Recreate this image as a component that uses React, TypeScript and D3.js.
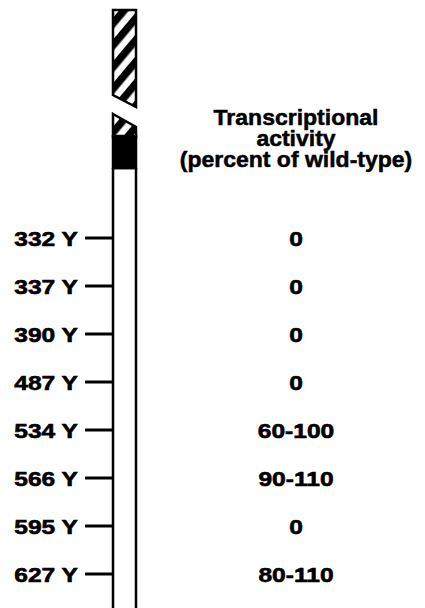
import React from "react";
import * as d3 from "d3";

const residues = ["332 Y", "337 Y", "390 Y", "487 Y", "534 Y", "566 Y", "595 Y", "627 Y"];
const activity = ["0", "0", "0", "0", "60-100", "90-110", "0", "80-110"];
const titleLines = ["Transcriptional", "activity", "(percent of wild-type)"];

const W = 425;
const H = 608;
const FONT = "'Liberation Sans', Arial, Helvetica, sans-serif";

export default function App() {
  const y = d3.scalePoint<string>().domain(residues).range([238, 574]);
  const barL = 113;
  const barR = 136;
  const valX = 296;

  return (
    <svg width={W} height={H} style={{ position: "absolute", left: 0, top: 0 }}>
      <defs>
        <pattern id="hatch" patternUnits="userSpaceOnUse" width="14" height="14" patternTransform="rotate(40)">
          <rect x="0" y="0" width="14" height="14" fill="white" />
          <rect x="0" y="0" width="7.5" height="14" fill="black" />
        </pattern>
      </defs>
      <rect width={W} height={H} fill="white" />
      {/* upper hatched piece */}
      <path
        d={`M${barL},10 L${barR},10 L${barR},107 L${barL},95 Z`}
        fill="url(#hatch)"
        stroke="black"
        strokeWidth={2.5}
      />
      {/* lower piece: hatched then black then white */}
      <path
        d={`M${barL},114 L${barR},127 L${barR},137 L${barL},137 Z`}
        fill="url(#hatch)"
        stroke="black"
        strokeWidth={2.5}
      />
      <rect x={barL} y={136} width={barR - barL} height={32} fill="black" stroke="black" strokeWidth={2.5} />
      <path
        d={`M${barL},168 L${barL},612 M${barR},168 L${barR},612 M${barL},168 L${barR},168`}
        stroke="black"
        strokeWidth={2.5}
        fill="none"
      />
      {/* ticks and labels */}
      {residues.map((r, i) => (
        <g key={r}>
          <line x1={85} x2={barL} y1={y(r)} y2={y(r)} stroke="black" strokeWidth={3} />
          <text
            transform={`translate(78,${(y(r) as number) + 7.5}) scale(1.17,1)`}
            textAnchor="end"
            fontFamily={FONT}
            fontWeight="bold"
            fontSize={21}
            fill="black"
            stroke="black"
            strokeWidth={0.6}
          >
            {r}
          </text>
          <text
            transform={`translate(${valX},${(y(r) as number) + 7.5}) scale(1.17,1)`}
            textAnchor="middle"
            fontFamily={FONT}
            fontWeight="bold"
            fontSize={21}
            fill="black"
            stroke="black"
            strokeWidth={0.6}
          >
            {activity[i]}
          </text>
        </g>
      ))}
      {titleLines.map((t, i) => (
        <text
          key={t}
          transform={`translate(${valX},${125 + i * 21}) scale(1.07,1)`}
          textAnchor="middle"
          fontFamily={FONT}
          fontWeight="bold"
          fontSize={21.5}
          fill="black"
          stroke="black"
          strokeWidth={0.5}
        >
          {t}
        </text>
      ))}
    </svg>
  );
}
